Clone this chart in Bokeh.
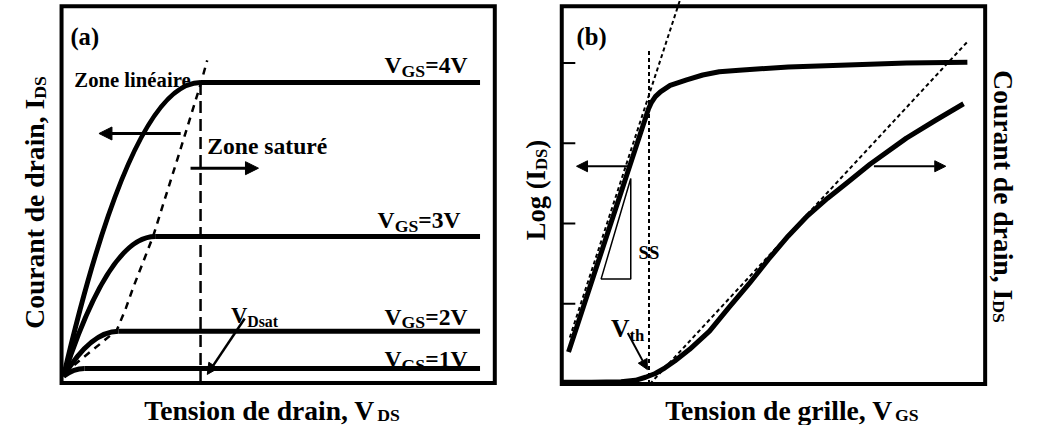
from bokeh.plotting import figure
from bokeh.models import Range1d, Label, Arrow, NormalHead
from bokeh.layouts import row
from bokeh.embed import file_html
from bokeh.resources import INLINE

# ---------------- data ----------------
# panel (a): output characteristics
VGS_LEVELS = ["1V", "2V", "3V", "4V"]
VDSAT = [0.50, 1.32, 2.20, 3.29]          # knee (saturation) voltages
IDSAT = [0.21, 1.22, 3.78, 7.94]          # plateau currents
VDS_END = 10.0
LOCUS_VDS = [0.02, 0.43, 0.85, 1.28, 1.50, 1.68, 2.15, 2.79, 3.29, 3.45]
LOCUS_IDS = [0.08, 0.47, 0.85, 1.25, 1.85, 2.42, 3.78, 6.07, 7.89, 8.54]

# panel (b): transfer characteristics
LOG_VGS = [0.16, 2.05, 2.12, 2.21, 2.33, 2.56, 2.95, 3.33, 3.72, 4.19, 5.35, 6.58, 8.14, 9.58]
LOG_IDS = [0.40, 3.43, 3.51, 3.58, 3.64, 3.72, 3.79, 3.85, 3.89, 3.91, 3.95, 3.97, 4.00, 4.01]
LIN_VGS = [0.00, 0.70, 1.40, 1.74, 1.98, 2.21, 2.44, 2.67, 3.02, 3.49, 3.95, 4.42, 4.88,
           5.35, 5.81, 6.28, 6.74, 7.28, 8.14, 8.84, 9.49]
LIN_IDS = [0.05, 0.05, 0.06, 0.10, 0.18, 0.28, 0.43, 0.61, 0.92, 1.40, 2.03, 2.65, 3.30,
           3.92, 4.46, 4.92, 5.33, 5.82, 6.51, 6.99, 7.42]
LOG_TAN_VGS = [0.19, 2.79]
LOG_TAN_IDS = [0.58, 4.78]
VTH = 2.06
VTH_TOP = 4.18
LIN_TAN_VGS = [2.08, 9.58]
LIN_TAN_IDS = [0.0, 9.06]
LOG_TICKS = [1, 2, 3, 4]
SS_VGS = [0.93, 1.63, 1.63]
SS_LOG = [1.31, 1.31, 2.56]

# ---------------- layout helpers ----------------
SX = 1027 / 1043
SY = 425 / 441
FS = 0.985
FONT = "Liberation Serif"
W = {' ': 250, '(': 333, ')': 333, ',': 250, '=': 570, '1': 500, '2': 500, '3': 500, '4': 500,
     'C': 722, 'D': 722, 'G': 778, 'I': 389, 'L': 667, 'S': 556, 'T': 667, 'V': 722, 'Z': 667,
     'a': 500, 'd': 556, 'e': 444, 'g': 500, 'h': 556, 'i': 278, 'l': 278, 'n': 556, 'o': 500,
     'r': 444, 's': 389, 't': 333, 'u': 556, 'é': 444}


def tw(s, size):
    return sum(W.get(c, 500) for c in s) / 1000.0 * size * FS


# reference-pixel -> data conversions
def ax(X): return (X - 64) / 42.3
def ay(Y): return (390 - Y) / 38.4
def bx(X): return (X - 570) / 43.0
def by(Y): return (398 - Y) / 83.3
def blin(Y): return (398 - Y) / 39.2


H = 425
WA, WB = 512, 515
REF_W, REF_H = 1043, 441
# panel boxes (reference pixels)
A_BOX = (62, 502, 6, 397)
B_BOX = (570, 1000, 6, 398)


def make_fig(w, xr, yr):
    p = figure(width=w, height=H, x_range=xr, y_range=yr, output_backend="svg",
               toolbar_location=None, x_axis_location=None, y_axis_location=None,
               min_border=0, outline_line_color=None,
               background_fill_color="white", border_fill_color="white")
    p.grid.visible = False
    return p


def box(p, cx, cy, b):
    p.quad(left=[cx(b[0])], right=[cx(b[1])], top=[cy(b[2])], bottom=[cy(b[3])],
           fill_color=None, line_color="black", line_width=4, line_join="miter")


def lab(p, x, y, text, size, align="left", angle=0):
    p.add_layout(Label(x=x, y=y, text=text, text_font=FONT, text_font_style="bold",
                       text_font_size=f"{size*FS:.1f}px", text_color="black",
                       text_align=align, text_baseline="alphabetic",
                       angle=angle, angle_units="deg"))


def rich(p, cx, cy, X, Y, parts):
    for text, size, dy in parts:
        lab(p, cx(X), cy(Y + dy), text, size)
        X += tw(text, size) / SX


def arrow(p, x0, y0, x1, y1, lw, size):
    p.add_layout(Arrow(end=NormalHead(size=size, fill_color="black", line_color="black",
                                      line_width=1),
                       x_start=x0, y_start=y0, x_end=x1, y_end=y1,
                       line_color="black", line_width=lw))


# ---------------- panel (a) ----------------
pa = make_fig(WA, Range1d(ax(0), ax(WA / SX)), Range1d(ay(REF_H), ay(0)))
box(pa, ax, ay, A_BOX)

pa.quadratic(x0=[0] * 4, y0=[0] * 4, x1=VDSAT, y1=IDSAT,
             cx=[v / 2 for v in VDSAT], cy=IDSAT, line_color="black", line_width=5)
pa.segment(x0=VDSAT, y0=IDSAT, x1=[VDS_END] * 4, y1=IDSAT, line_color="black", line_width=5)
pa.segment(x0=[VDSAT[3]], y0=[ay(A_BOX[3])], x1=[VDSAT[3]], y1=[IDSAT[3]],
           line_color="black", line_width=2.5, line_dash="12 6")
pa.line(LOCUS_VDS, LOCUS_IDS, line_color="black", line_width=2.5, line_dash="7 6")

arrow(pa, ax(183), ay(138), ax(100), ay(138), 3, 13)
arrow(pa, ax(193), ay(174), ax(262), ay(174), 3, 13)
arrow(pa, ax(248), ay(330), ax(210), ay(388), 2.5, 11)

lab(pa, ax(71), ay(37), "(a)", 25)
lab(pa, ax(75), ay(83), "Zone linéaire", 21)
lab(pa, ax(210), ay(151), "Zone saturé", 24)
for lvl, (X, Y) in zip(VGS_LEVELS, [(390, 372), (390, 328), (383, 228), (390, 67)]):
    rich(pa, ax, ay, X, Y, [("V", 24, 0), ("GS", 18, 6), ("=" + lvl, 24, 0)])
rich(pa, ax, ay, 234, 327, [("V", 23, 0), ("Dsat", 16, 6)])
rich(pa, ax, ay, 146, 425, [("Tension de drain, V", 28, 0), ("DS", 18, 5)])
lab(pa, ax(35), ay(102), "Courant de drain, I", 28, align="right", angle=90)
lab(pa, ax(40), ay(102), "DS", 18, align="left", angle=90)

# ---------------- panel (b) ----------------
pb = make_fig(WB, Range1d(bx(WA / SX), bx(REF_W)), Range1d(by(REF_H), by(0)))
pb.extra_y_ranges = {"lin": Range1d(blin(REF_H), blin(0))}
box(pb, bx, by, B_BOX)

x_left = bx(B_BOX[0])
pb.segment(x0=[x_left] * 4, y0=LOG_TICKS, x1=[x_left + 0.32] * 4,
           y1=LOG_TICKS, line_color="black", line_width=2)
pb.line(LOG_TAN_VGS, LOG_TAN_IDS, line_color="black", line_width=2, line_dash="4 3")
pb.segment(x0=[VTH], y0=[by(B_BOX[3])], x1=[VTH], y1=[VTH_TOP], line_color="black",
           line_width=2, line_dash="4 3")
pb.line(LIN_TAN_VGS, LIN_TAN_IDS, y_range_name="lin", line_color="black", line_width=2,
        line_dash="4 3")
pb.line(LOG_VGS, LOG_IDS, line_color="black", line_width=5, line_join="round")
pb.line(LIN_VGS, LIN_IDS, y_range_name="lin", line_color="black", line_width=5,
        line_join="round")
pb.patch(SS_VGS, SS_LOG, fill_color=None, line_color="black", line_width=1.5)

arrow(pb, bx(638), by(172), bx(585), by(172), 2, 11)
arrow(pb, bx(887), by(172), bx(960), by(172), 2, 11)
arrow(pb, bx(637), by(345), bx(657), by(383), 2, 10)

lab(pb, bx(585), by(37), "(b)", 25)
lab(pb, bx(648), by(262), "SS", 19)
rich(pb, bx, by, 620, 340, [("V", 26, 0), ("th", 17, 8)])
rich(pb, bx, by, 675, 425, [("Tension de grille, V", 28, 0), ("GS", 18, 5)])
lab(pb, bx(544), by(176), "Log (I", 27, align="right", angle=90)
lab(pb, bx(549), by(176), "DS", 17, align="left", angle=90)
lab(pb, bx(544), by(176 - tw("DS", 17) / SY), ")", 27, align="left", angle=90)
lab(pb, bx(1019), by(311), "Courant de drain, I", 28, align="right", angle=-90)
lab(pb, bx(1014), by(311), "DS", 18, align="left", angle=-90)

layout = row(pa, pb)
open("out.html", "w").write(file_html(layout, INLINE))
